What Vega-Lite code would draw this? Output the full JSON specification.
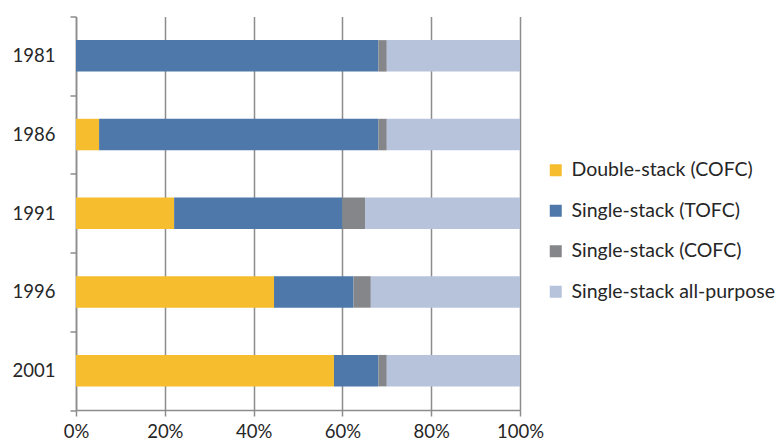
{
  "$schema": "https://vega.github.io/schema/vega-lite/v6.json",
  "width": 444,
  "height": 393.5,
  "autosize": "none",
  "padding": {"left": 76, "top": 16.5, "right": 259, "bottom": 35},
  "background": "white",
  "config": {
    "view": {"stroke": null},
    "font": "Lato",
    "axis": {"labelFont": "Lato", "labelColor": "#262626", "labelFontSize": 18.5, "domainColor": "#8c8c8c", "tickColor": "#8c8c8c", "domainWidth": 1.5, "tickWidth": 1.5, "tickSize": 6}
  },
  "data": {
    "values": [
      {"year": "1981", "type": "Double-stack (COFC)", "k": 1, "value": 0},
      {"year": "1981", "type": "Single-stack (TOFC)", "k": 2, "value": 68.1},
      {"year": "1981", "type": "Single-stack (COFC)", "k": 3, "value": 1.9},
      {"year": "1981", "type": "Single-stack all-purpose", "k": 4, "value": 30},
      {"year": "1986", "type": "Double-stack (COFC)", "k": 1, "value": 5.2},
      {"year": "1986", "type": "Single-stack (TOFC)", "k": 2, "value": 62.9},
      {"year": "1986", "type": "Single-stack (COFC)", "k": 3, "value": 1.9},
      {"year": "1986", "type": "Single-stack all-purpose", "k": 4, "value": 30},
      {"year": "1991", "type": "Double-stack (COFC)", "k": 1, "value": 22.1},
      {"year": "1991", "type": "Single-stack (TOFC)", "k": 2, "value": 37.9},
      {"year": "1991", "type": "Single-stack (COFC)", "k": 3, "value": 5.1},
      {"year": "1991", "type": "Single-stack all-purpose", "k": 4, "value": 34.9},
      {"year": "1996", "type": "Double-stack (COFC)", "k": 1, "value": 44.6},
      {"year": "1996", "type": "Single-stack (TOFC)", "k": 2, "value": 17.9},
      {"year": "1996", "type": "Single-stack (COFC)", "k": 3, "value": 3.9},
      {"year": "1996", "type": "Single-stack all-purpose", "k": 4, "value": 33.6},
      {"year": "2001", "type": "Double-stack (COFC)", "k": 1, "value": 58.1},
      {"year": "2001", "type": "Single-stack (TOFC)", "k": 2, "value": 10},
      {"year": "2001", "type": "Single-stack (COFC)", "k": 3, "value": 1.9},
      {"year": "2001", "type": "Single-stack all-purpose", "k": 4, "value": 30}
    ]
  },
  "mark": {"type": "bar", "height": {"band": 0.4}},
  "encoding": {
    "y": {
      "field": "year", "type": "nominal",
      "scale": {"paddingInner": 0, "paddingOuter": 0},
      "axis": {"title": null, "tickBand": "extent", "labelPadding": 15, "grid": false}
    },
    "x": {
      "field": "value", "type": "quantitative", "stack": "normalize",
      "scale": {"domain": [0, 1], "nice": false},
      "axis": {"title": null, "format": ".0%", "values": [0, 0.2, 0.4, 0.6, 0.8, 1], "grid": true, "gridColor": "#8c8c8c", "gridWidth": 1.5, "labelPadding": 6, "labelFlush": false}
    },
    "color": {
      "field": "type", "type": "nominal",
      "scale": {
        "domain": ["Double-stack (COFC)", "Single-stack (TOFC)", "Single-stack (COFC)", "Single-stack all-purpose"],
        "range": ["#F6BE2E", "#4D78A9", "#85868A", "#B6C3DB"]
      },
      "legend": {
        "title": null, "orient": "none", "legendX": 470, "legendY": 144,
        "symbolType": "square", "symbolSize": 144, "symbolStrokeWidth": 0,
        "labelFont": "Lato", "labelFontSize": 19.5, "labelColor": "#262626", "labelLimit": 300,
        "rowPadding": 19.5, "labelOffset": 6
      }
    },
    "order": {"field": "k", "type": "quantitative"}
  }
}
